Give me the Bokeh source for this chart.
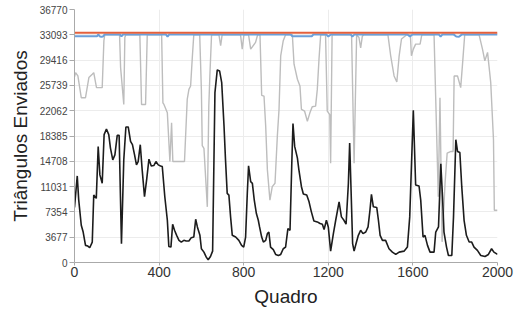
from bokeh.plotting import figure
from bokeh.models import FixedTicker, Range1d
from bokeh.embed import file_html
from bokeh.resources import INLINE

# ---- data ----
x_ticks = [0, 400, 800, 1200, 1600, 2000]
y_ticks = [0, 3677, 7354, 11031, 14708, 18385, 22062, 25739, 29416, 33093, 36770]
y_tick_labels = ["0", "3677", "7354", "11031", "14708", "18385", "22062",
                 "25739", "29416", "33093", "36770"]

total_frames = [0, 2000]
total_values = [33400, 33400]

blue_frames = [0, 107, 112, 120, 127, 135, 143, 215, 222, 230, 432, 440, 448,
               1022, 1030, 1122, 1130, 1190, 1200, 1212, 1305, 1314, 1324,
               1574, 1586, 1598, 1722, 1731, 1740, 1792, 1805, 1818, 1832, 2000]
blue_values = [32880, 32880, 33150, 32850, 32820, 32850, 33150, 33150, 32850, 33150, 33150, 32820, 33150,
               33150, 32880, 32880, 33150, 33150, 32850, 33150, 33150, 32850, 33150,
               33150, 32850, 33150, 33150, 32850, 33150, 33150, 32850, 32820, 33150, 33150]

gray_frames = [0, 5, 16, 32, 52, 68, 84, 91, 104, 131, 139, 143,
               213, 218, 233, 238, 243, 309, 317, 336, 344,
               412, 418, 423, 439, 451, 459, 465, 520, 533, 541, 549, 557, 564,
               592, 600, 604, 612, 628, 635, 640, 648,
               683, 691, 698, 785, 793, 801, 823, 833, 856, 866,
               877, 885, 896, 904, 912, 924, 935, 948, 959, 967, 975, 987, 998,
               1030, 1038, 1054, 1066, 1073, 1088, 1101, 1113, 1124, 1140, 1148, 1156, 1164,
               1187, 1195, 1207, 1211, 1218, 1310, 1322, 1334, 1345, 1353, 1361, 1368,
               1482, 1495, 1511, 1524, 1535, 1546, 1571, 1588, 1593, 1602, 1613, 1634, 1642,
               1700, 1708, 1720, 1728, 1738, 1752, 1762, 1780, 1790, 1795, 1811, 1826, 1834, 1845,
               1913, 1929, 1940, 1953, 1968, 1981, 1985, 2000]
gray_values = [27000, 27600, 27110, 23950, 23950, 26870, 27360, 27600, 25410, 25410, 32230, 33093,
               33093, 28330, 22970, 32720, 33093, 33093, 22970, 22970, 33093,
               33093, 23200, 22970, 21750, 14670, 20290, 14670, 14670, 23700, 25160, 25650, 29800, 33093,
               33093, 25000, 17000, 16600, 8090, 22720, 27110, 33093,
               33093, 31500, 33093, 33093, 31010, 33093, 33093, 31010, 32000, 33093,
               33093, 24300, 24190, 19800, 13460, 9070, 11020, 11510, 18330, 22240, 30040, 32230, 33093,
               33093, 28820, 26630, 25650, 22240, 21990, 20530, 21750, 22630, 22720, 25160, 29550, 33093,
               33093, 22000, 21500, 14440, 33093, 33093, 14440, 33093, 32700, 31200, 32900, 33093,
               33093, 30040, 27110, 26230, 30040, 32480, 33093, 33093, 30040, 31010, 31740, 31740, 33093,
               33093, 23700, 9560, 23950, 3000, 11500, 15900, 16140, 16140, 27110, 27110, 25410, 28580, 33093,
               33093, 31010, 29300, 30530, 26140, 17850, 7600, 7600]

sent_frames = [0, 13, 20, 32, 41, 52, 63, 72, 84, 91, 103, 112, 120, 131, 140, 151, 162, 170,
               181, 191, 202, 211, 222, 233, 243, 254, 265, 274, 284, 293, 301, 311, 320, 331,
               341, 352, 363, 375, 385, 396, 407, 415, 427, 439, 446, 456, 464, 473, 483, 494,
               505, 517, 528, 541, 552, 564, 573, 581, 593, 600, 612, 623, 632, 643, 653, 664,
               675, 686, 696, 707, 714, 722, 730, 738, 746, 762, 777, 790, 800, 809, 817, 823,
               833, 841, 850, 860, 869, 875, 885, 893, 904, 912, 919, 927, 940, 951, 964, 975,
               987, 998, 1009, 1019, 1027, 1033, 1041, 1054, 1061, 1073, 1082, 1098, 1109, 1120,
               1132, 1148, 1161, 1172, 1180, 1191, 1200, 1211, 1224, 1235, 1251, 1262, 1274, 1284,
               1295, 1301, 1309, 1315, 1322, 1331, 1342, 1353, 1364, 1377, 1388, 1397, 1404, 1413,
               1429, 1437, 1445, 1456, 1471, 1487, 1503, 1519, 1535, 1558, 1574, 1585, 1602, 1613,
               1629, 1637, 1648, 1657, 1669, 1681, 1700, 1708, 1721, 1732, 1740, 1747, 1759, 1768,
               1784, 1792, 1803, 1811, 1822, 1831, 1842, 1853, 1866, 1878, 1889, 1905, 1921, 1941,
               1957, 1972, 1983, 2000]
sent_values = [8000, 12580, 9070, 5410, 4430, 2490, 2390, 2150, 2970, 9800, 9320, 16870, 12730, 11510, 18580, 19410, 18580, 16630,
               14920, 15650, 18480, 18480, 2730, 14920, 19700, 19700, 17600, 17120, 15650, 14190, 14670, 17120, 13460, 9560,
               12000, 15020, 14040, 14090, 14670, 14190, 14040, 13950, 9560, 6140, 2340, 2240, 5560, 4680, 3950, 3220,
               2970, 3220, 3120, 3120, 3610, 3700, 6290, 5170, 3950, 2000, 1510, 780, 390, 880, 1650, 24680,
               27990, 27840, 26140, 19800, 14920, 10050, 9800, 6630, 3950, 3700, 3220, 2490, 2240, 3700, 10050, 14040,
               11750, 11510, 9070, 7120, 6140, 5170, 3700, 2970, 3220, 4200, 4430, 2240, 1860, 1170, 1020, 1170,
               2000, 2240, 4930, 4680, 13950, 20190, 16870, 15170, 13460, 11020, 9950, 9800, 8820, 7360,
               6040, 5900, 5660, 5560, 4780, 6140, 5170, 1650, 4200, 6140, 8820, 6630, 6140, 5560,
               11510, 17370, 9070, 2730, 1650, 2730, 3950, 4680, 4200, 4430, 5170, 7610, 9900, 8090,
               8000, 6140, 3950, 3220, 3220, 2000, 1510, 1170, 1510, 1650, 2240, 6630, 22140, 11270,
               11120, 9070, 3700, 3950, 2490, 1510, 1510, 4430, 5170, 14340, 9560, 4430, 2240, 1020,
               1020, 6630, 17850, 16140, 15990, 11020, 6140, 3950, 2970, 2970, 2240, 1760, 1020, 880,
               1170, 2000, 1510, 1170]

# ---- figure ----
FONT = "Liberation Sans"
p = figure(width=514, height=312, output_backend="svg", toolbar_location=None,
           x_range=Range1d(0, 2000), y_range=Range1d(0, 36770),
           min_border_left=74, min_border_right=17, min_border_top=9, min_border_bottom=50)
p.outline_line_color = None

p.line(gray_frames, gray_values, line_color="#bdbdbd", line_width=1.4)
p.line(blue_frames, blue_values, line_color="#6b9fd9", line_width=2)
p.line(total_frames, total_values, line_color="#e4603c", line_width=2)
p.line(sent_frames, sent_values, line_color="#1c1c1c", line_width=1.6)

p.xaxis.ticker = FixedTicker(ticks=x_ticks)
p.yaxis.ticker = FixedTicker(ticks=y_ticks)
p.yaxis.major_label_overrides = {t: s for t, s in zip(y_ticks, y_tick_labels)}

for ax in (p.xaxis, p.yaxis):
    ax.axis_line_color = "#aaaaaa"
    ax.major_tick_line_color = "#aaaaaa"
    ax.minor_tick_line_color = None
    ax.major_tick_in = 0
    ax.major_label_text_font = FONT
    ax.axis_label_text_font = FONT
    ax.axis_label_text_font_style = "normal"
    ax.axis_label_text_color = "#222222"

p.xaxis.axis_label = "Quadro"
p.xaxis.axis_label_text_font_size = "19px"
p.xaxis.major_label_text_font_size = "14px"
p.xaxis.major_label_text_color = "#333333"
p.xaxis.major_tick_out = 3
p.xaxis.major_label_standoff = 1
p.xaxis.axis_label_standoff = 6

p.yaxis.axis_label = "Triângulos Enviados"
p.yaxis.axis_label_text_font_size = "19px"
p.yaxis.major_label_text_font_size = "10px"
p.yaxis.major_label_text_color = "#444444"
p.yaxis.major_tick_out = 5
p.yaxis.major_label_standoff = 2
p.yaxis.axis_label_standoff = 6

p.xgrid.grid_line_color = "#ececec"
p.ygrid.grid_line_color = "#ececec"

open("out.html", "w").write(file_html(p, INLINE))
